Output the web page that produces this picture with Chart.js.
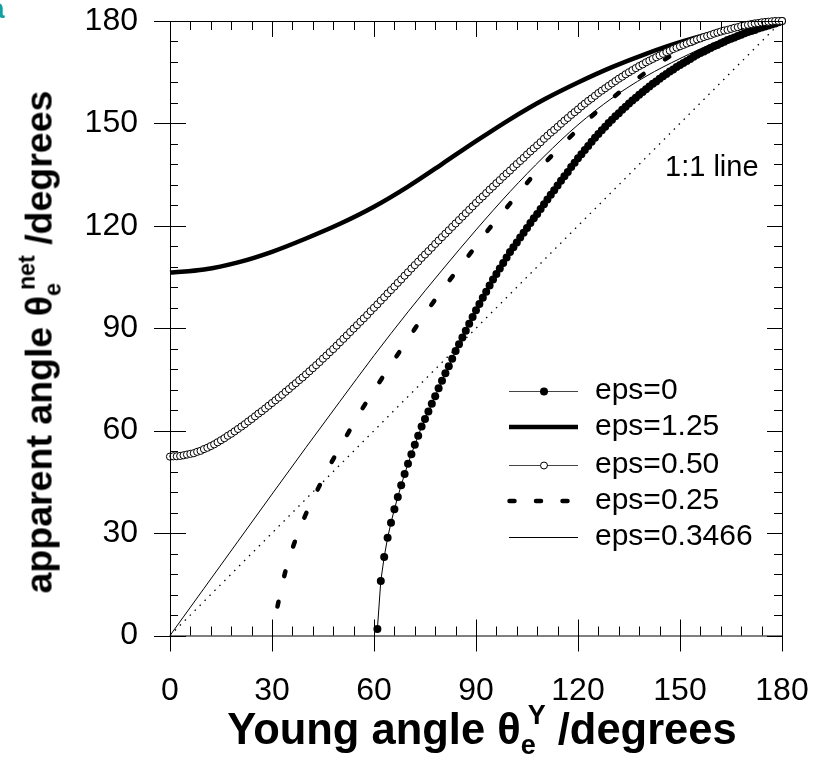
<!doctype html>
<html>
<head>
<meta charset="utf-8" />
<title>apparent angle vs Young angle</title>
<script src="https://cdn.jsdelivr.net/npm/chart.js@4.4.1/dist/chart.umd.min.js"></script>
<style>
  body { margin: 0; background: #fff; }
  #wrap { position: relative; width: 830px; height: 760px; overflow: hidden; font-family: "Liberation Sans", Arial, sans-serif; }
  #c { position: absolute; left: 0; top: 0; }
  .ttl { position: absolute; white-space: nowrap; font-weight: bold; color: #000; line-height: 1; }
  .ttl sub { font-size: 0.62em; vertical-align: -0.35em; }
  .ttl sup { font-size: 0.62em; vertical-align: 0.75em; margin-left: -0.3em; }
  #xt { left: 482px; top: 702px; font-size: 43.5px; transform: translateX(-50%); }
  #yt { left: 40px; top: 342px; font-size: 37.5px; transform: translate(-50%, -50%) rotate(-90deg); }
  #tag { position: absolute; left: -11px; top: -7px; font-weight: bold; font-size: 28px; color: #12a0a0; }
</style>
</head>
<body>
<div id="wrap">
  <canvas id="c" width="830" height="760"></canvas>
  <div id="tag">a</div>
  <div class="ttl" id="xt">Young angle &theta;<sub>e</sub><sup>Y</sup> /degrees</div>
  <div class="ttl" id="yt">apparent angle &theta;<sub>e</sub><sup>net</sup> /degrees</div>
</div>
<script>
// Young angle, 1 degree steps (used by the marker series)
const youngDeg = [0,1,2,3,4,5,6,7,8,9,10,11,12,13,14,15,16,17,18,19,20,21,22,23,24,25,26,27,28,29,30,
  31,32,33,34,35,36,37,38,39,40,41,42,43,44,45,46,47,48,49,50,51,52,53,54,55,56,57,58,59,60,
  61,62,63,64,65,66,67,68,69,70,71,72,73,74,75,76,77,78,79,80,81,82,83,84,85,86,87,88,89,90,
  91,92,93,94,95,96,97,98,99,100,101,102,103,104,105,106,107,108,109,110,111,112,113,114,115,116,117,118,119,120,
  121,122,123,124,125,126,127,128,129,130,131,132,133,134,135,136,137,138,139,140,141,142,143,144,145,146,147,148,149,150,
  151,152,153,154,155,156,157,158,159,160,161,162,163,164,165,166,167,168,169,170,171,172,173,174,175,176,177,178,179,180];
const youngTen = [0,10,20,30,40,50,60,70,80,90,100,110,120,130,140,150,160,170,180];

// eps=0 : from 61 to 180 deg
const eps0 = [1.9,16.0,23.0,28.6,33.0,37.0,40.6,44.0,47.3,50.3,53.1,55.9,58.5,61.2,63.4,65.6,67.9,70.1,72.4,74.6,
  76.8,78.9,81.1,83.3,85.3,87.3,89.3,91.3,93.3,95.3,97.1,98.9,100.7,102.5,104.3,105.9,107.5,109.1,110.7,112.3,
  113.7,115.1,116.6,118.0,119.4,120.8,122.2,123.5,124.9,126.3,127.7,129.1,130.4,131.8,133.2,134.5,135.8,137.2,138.5,139.8,
  141.0,142.2,143.4,144.6,145.8,146.9,148.0,149.0,150.1,151.1,152.1,153.0,154.0,154.9,155.8,156.7,157.5,158.4,159.2,160.0,
  160.8,161.6,162.3,163.1,163.8,164.5,165.2,165.8,166.5,167.1,167.7,168.3,168.9,169.5,170.1,170.6,171.1,171.6,172.1,172.6,
  173.0,173.5,173.9,174.4,174.8,175.2,175.6,176.0,176.4,176.8,177.1,177.4,177.8,178.1,178.4,178.7,179.0,179.3,179.6,180.0];

// eps=1.25 : every 10 deg
const eps125 = [106.3,107.2,109.3,112.4,116.3,120.6,125.6,131.5,138.1,144.8,151.2,157.0,162.0,166.5,170.4,173.8,176.6,178.7,180.0];

// eps=0.50 : 0 to 180 deg
const eps050 = [52.4,52.5,52.5,52.6,52.8,53.0,53.2,53.4,53.8,54.1,54.6,55.0,55.5,56.0,56.6,57.2,57.8,58.5,59.1,59.8,
  60.5,61.2,61.9,62.7,63.4,64.2,65.0,65.7,66.5,67.3,68.1,68.9,69.7,70.5,71.4,72.2,73.1,73.9,74.8,75.6,
  76.5,77.4,78.3,79.2,80.1,81.1,82.0,83.0,83.9,84.9,85.9,86.9,87.9,88.9,89.9,90.9,91.9,92.9,93.9,95.0,
  96.0,97.0,98.1,99.1,100.2,101.2,102.2,103.3,104.3,105.4,106.4,107.5,108.5,109.5,110.6,111.6,112.6,113.6,114.7,115.7,
  116.7,117.7,118.7,119.7,120.7,121.7,122.7,123.7,124.7,125.7,126.7,127.7,128.6,129.6,130.6,131.5,132.5,133.4,134.4,135.3,
  136.2,137.2,138.1,139.0,139.9,140.9,141.8,142.7,143.6,144.5,145.5,146.4,147.3,148.1,149.0,149.9,150.8,151.6,152.5,153.3,
  154.1,155.0,155.8,156.6,157.3,158.1,158.9,159.6,160.3,161.0,161.7,162.4,163.1,163.7,164.4,165.0,165.6,166.2,166.8,167.3,
  167.9,168.4,168.9,169.4,169.9,170.4,170.9,171.3,171.8,172.2,172.6,173.0,173.4,173.8,174.2,174.6,174.9,175.3,175.6,175.9,
  176.3,176.6,176.9,177.2,177.4,177.7,178.0,178.2,178.5,178.7,178.9,179.1,179.3,179.4,179.6,179.7,179.8,179.9,180.0,180.0,180.0];

// eps=0.25 (dashed)
const young025 = [31.6,34.0,36.4,39.5,43.1,47.0,51.3,55.8,60.6,65.7,70.9,76.2,81.8,87.6,93.6,100.0,106.4,113.7,121.3,128.9,136.6,144.4,152.0,160.0,170.0,180.0];
const eps025 = [8.5,19.0,26.6,34.5,42.1,49.8,57.4,65.2,72.7,80.4,88.2,95.9,103.5,111.0,118.8,126.5,134.2,142.0,149.5,156.4,162.5,168.0,172.6,176.2,179.0,180.0];

// eps=0.3466 : every 10 deg
const eps3466 = [0.0,13.8,27.6,41.4,55.1,68.6,82.0,94.8,107.0,118.8,130.0,140.3,149.6,157.4,163.8,169.0,173.6,177.3,180.0];

const oneToOne = [0, 180];

const xTicks = [0, 30, 60, 90, 120, 150, 180];

function pts(xs, ys) { return ys.map((y, i) => ({ x: xs[i], y: y })); }

const frame = {
  id: 'frame',
  afterDraw(chart) {
    const ctx = chart.ctx, a = chart.chartArea;
    const xs = chart.scales.x, ys = chart.scales.y;
    ctx.save();
    ctx.strokeStyle = '#000';
    ctx.lineWidth = 1;
    ctx.beginPath();
    ctx.rect(a.left + 0.5, a.top + 0.5, a.right - a.left, a.bottom - a.top);
    for (let v = 0; v <= 180; v += 6) {
      const major = v % 30 === 0;
      const px = Math.round(xs.getPixelForValue(v)) + 0.5;
      const py = Math.round(ys.getPixelForValue(v)) + 0.5;
      // bottom
      ctx.moveTo(px, a.bottom - (major ? 16 : 9));
      ctx.lineTo(px, a.bottom + (major ? 16 : 0));
      // top
      ctx.moveTo(px, a.top);
      ctx.lineTo(px, a.top + (major ? 16 : 9));
      // left
      ctx.moveTo(a.left - (major ? 16 : 0), py);
      ctx.lineTo(a.left + (major ? 16 : 8), py);
      // right
      ctx.moveTo(a.right - (major ? 15 : 8), py);
      ctx.lineTo(a.right, py);
    }
    ctx.stroke();

    // 1:1 label
    ctx.fillStyle = '#000';
    ctx.font = '29px "Liberation Sans", Arial, sans-serif';
    ctx.textBaseline = 'middle';
    ctx.textAlign = 'left';
    ctx.fillText('1:1 line', xs.getPixelForValue(145.6), ys.getPixelForValue(137));

    // legend
    const lx0 = 509, lx1 = 578, tx = 595;
    const rows = [391, 427, 465, 501, 537];
    const names = ['eps=0', 'eps=1.25', 'eps=0.50', 'eps=0.25', 'eps=0.3466'];
    ctx.font = '30px "Liberation Sans", Arial, sans-serif';
    names.forEach((n, i) => ctx.fillText(n, tx, rows[i]));

    ctx.lineCap = 'butt';
    ctx.strokeStyle = '#444';
    ctx.lineWidth = 1;
    ctx.beginPath();
    ctx.moveTo(lx0, rows[0] + 0.5); ctx.lineTo(lx1, rows[0] + 0.5);
    ctx.moveTo(lx0, rows[2] + 0.5); ctx.lineTo(lx1, rows[2] + 0.5);
    ctx.stroke();
    ctx.strokeStyle = '#000';
    ctx.beginPath();
    ctx.moveTo(lx0, rows[4] + 0.5); ctx.lineTo(lx1, rows[4] + 0.5);
    ctx.stroke();
    ctx.lineWidth = 4.5;
    ctx.beginPath();
    ctx.moveTo(lx0, rows[1]); ctx.lineTo(lx1, rows[1]);
    ctx.stroke();
    ctx.lineCap = 'round';
    ctx.beginPath();
    [512, 538.5, 565].forEach(c => { ctx.moveTo(c - 2.5, rows[3]); ctx.lineTo(c + 2.5, rows[3]); });
    ctx.stroke();
    ctx.fillStyle = '#000';
    ctx.beginPath();
    ctx.arc(544, rows[0] + 0.5, 4, 0, Math.PI * 2);
    ctx.fill();
    ctx.fillStyle = '#fff';
    ctx.lineWidth = 1;
    ctx.beginPath();
    ctx.arc(544, rows[2] + 0.5, 3.5, 0, Math.PI * 2);
    ctx.fill();
    ctx.stroke();
    ctx.restore();
  }
};

const tickFont = { family: '"Liberation Sans", Arial, sans-serif', size: 32 };

new Chart(document.getElementById('c'), {
  type: 'scatter',
  data: {
    datasets: [
      { label: 'eps=0.50', data: pts(youngDeg, eps050), showLine: true, borderColor: '#000', borderWidth: 1,
        pointRadius: 3.6, pointBackgroundColor: '#fff', pointBorderColor: '#000', pointBorderWidth: 1, clip: false },
      { label: 'eps=0', data: pts(youngDeg.slice(61), eps0), showLine: true, borderColor: '#000', borderWidth: 1,
        pointRadius: 4, pointBackgroundColor: '#000', pointBorderWidth: 0, clip: false },
      { label: 'eps=1.25', data: pts(youngTen, eps125), showLine: true, borderColor: '#000', borderWidth: 4.5,
        pointRadius: 0, cubicInterpolationMode: 'monotone', clip: false },
      { label: 'eps=0.25', data: pts(young025, eps025), showLine: true, borderColor: '#000', borderWidth: 4.5,
        borderDash: [5, 26], borderCapStyle: 'round', pointRadius: 0, cubicInterpolationMode: 'monotone', clip: false },
      { label: 'eps=0.3466', data: pts(youngTen, eps3466), showLine: true, borderColor: '#000', borderWidth: 1,
        pointRadius: 0, cubicInterpolationMode: 'monotone', clip: false },
      { label: '1:1 line', data: pts(oneToOne, oneToOne), showLine: true, borderColor: '#000', borderWidth: 1.3,
        borderDash: [1.5, 5.5], pointRadius: 0, clip: false }
    ]
  },
  options: {
    responsive: false,
    animation: false,
    devicePixelRatio: 1,
    layout: { autoPadding: false, padding: { left: 0, top: 21, right: 48, bottom: 0 } },
    plugins: { legend: { display: false }, tooltip: { enabled: false } },
    scales: {
      x: {
        type: 'linear', min: 0, max: 180,
        afterBuildTicks: s => { s.ticks = xTicks.map(v => ({ value: v })); },
        afterFit: s => { s.height = 124.5; s.paddingLeft = 0; s.paddingRight = 0; },
        grid: { display: false, drawTicks: false },
        border: { display: false },
        ticks: { color: '#000', font: tickFont, padding: 36, maxRotation: 0 }
      },
      y: {
        type: 'linear', min: 0, max: 180,
        afterBuildTicks: s => { s.ticks = xTicks.map(v => ({ value: v })); },
        afterFit: s => { s.width = 170; s.paddingTop = 0; s.paddingBottom = 0; },
        grid: { display: false, drawTicks: false },
        border: { display: false },
        ticks: { color: '#000', font: tickFont, padding: 32 }
      }
    }
  },
  plugins: [frame]
});
</script>
</body>
</html>
